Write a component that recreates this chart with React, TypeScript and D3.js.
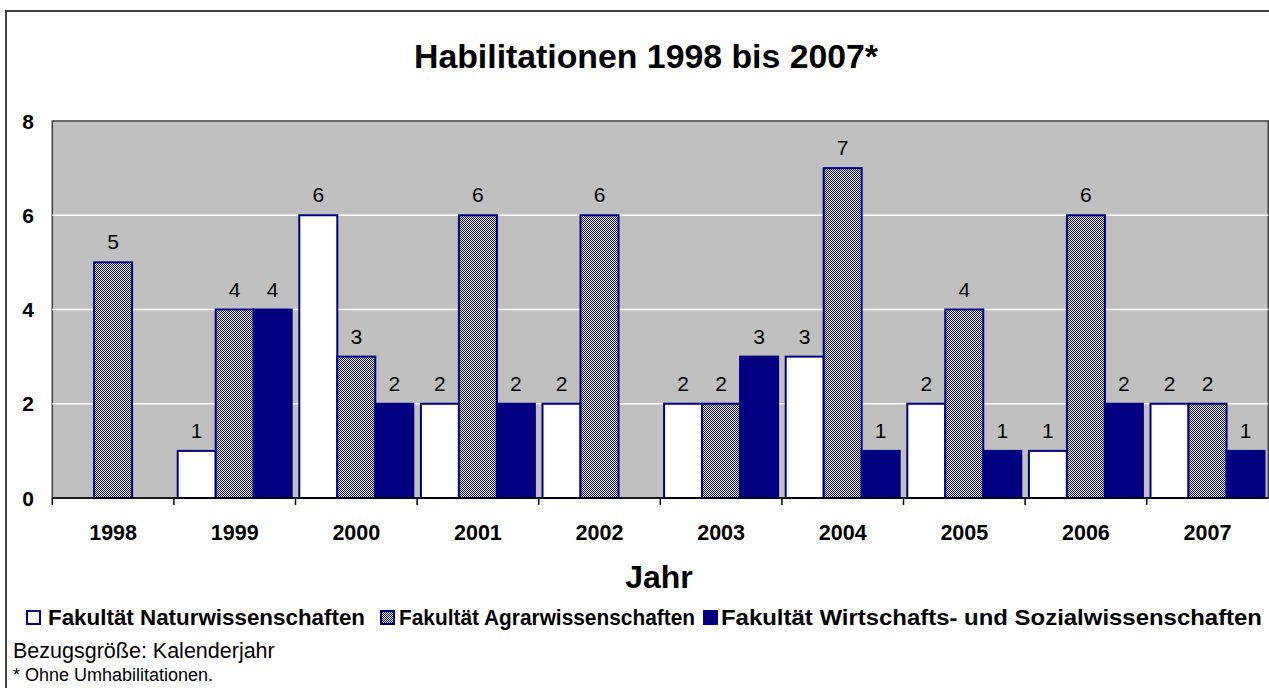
import React from "react";
import * as d3 from "d3";

const years = ["1998", "1999", "2000", "2001", "2002", "2003", "2004", "2005", "2006", "2007"];
const seriesNames = [
  "Fakultät Naturwissenschaften",
  "Fakultät Agrarwissenschaften",
  "Fakultät Wirtschafts- und Sozialwissenschaften",
];
const natur = [0, 1, 6, 2, 2, 2, 3, 2, 1, 2];
const agrar = [5, 4, 3, 6, 6, 2, 7, 4, 6, 2];
const wirt = [0, 4, 2, 2, 0, 3, 1, 1, 2, 1];
const yTicks = [0, 2, 4, 6, 8];

const NAVY = "#000080";
const FONT = "Arial, 'Liberation Sans', Helvetica, sans-serif";

export default function App() {
  const W = 1269, H = 688;
  const left = 52.3, right = 1268.3, top = 121, bottom = 498;
  const x0 = d3.scaleBand<string>().domain(years).range([left, right]).padding(0);
  const x1 = d3.scaleBand<string>().domain(["n", "a", "w"]).range([0, x0.bandwidth()]).paddingInner(0).paddingOuter(0.1);
  const y = d3.scaleLinear().domain([0, 8]).range([bottom, top]);
  const data = [
    { key: "n", vals: natur, fill: "#ffffff" },
    { key: "a", vals: agrar, fill: "url(#agrarPat)" },
    { key: "w", vals: wirt, fill: NAVY },
  ];
  const legendX = [
    { mx: 27, tx: 48, fill: "#ffffff", len: 317 },
    { mx: 381, tx: 399, fill: "url(#agrarPat)", len: 296 },
    { mx: 704, tx: 721, fill: NAVY, len: 541 },
  ];
  return (
    <svg width={W} height={H} style={{ display: "block", position: "absolute", left: 0, top: 0 }} fontFamily={FONT}>
      <defs>
        <pattern id="agrarPat" patternUnits="userSpaceOnUse" width={2} height={2}>
          <rect width={2} height={2} fill="#ffffff" />
          <rect x={0} y={0} width={1} height={1} fill={NAVY} />
          <rect x={1} y={1} width={1} height={1} fill={NAVY} />
        </pattern>
      </defs>
      <rect width={W} height={H} fill="#ffffff" />
      <rect x={6} y={11} width={1300} height={720} fill="none" stroke="#404040" strokeWidth={2} />
      <text x={646} y={68} textAnchor="middle" fontSize={33.8} fontWeight="bold">Habilitationen 1998 bis 2007*</text>
      <rect x={left} y={top} width={right - left} height={bottom - top} fill="#c0c0c0" stroke="#404040" strokeWidth={1.5} />
      {yTicks.filter(t => t > 0 && t < 8).map(t => (
        <line key={t} x1={left} x2={right} y1={y(t)} y2={y(t)} stroke="#ffffff" strokeWidth={1.5} />
      ))}
      {yTicks.map(t => (
        <text key={t} x={34} y={y(t) + 7.5} textAnchor="end" fontSize={21} fontWeight="bold">{t}</text>
      ))}
      {data.map(s => s.vals.map((v, i) => {
        if (!v) return null;
        const bx = (x0(years[i]) as number) + (x1(s.key) as number);
        const bw = x1.bandwidth();
        return (
          <g key={s.key + i}>
            <rect x={bx} y={y(v)} width={bw} height={y(0) - y(v)} fill={s.fill} stroke={NAVY} strokeWidth={2} />
            <text x={bx + bw / 2} y={y(v) - 13} textAnchor="middle" fontSize={21}>{v}</text>
          </g>
        );
      }))}
      <line x1={left} x2={right} y1={bottom} y2={bottom} stroke="#000" strokeWidth={1.5} />
      {years.map((yr, i) => (
        <line key={"t" + yr} x1={x0(yr) as number} x2={x0(yr) as number} y1={bottom} y2={bottom + 7} stroke="#000" strokeWidth={1.5} />
      ))}
      {years.map(yr => (
        <text key={yr} x={(x0(yr) as number) + x0.bandwidth() / 2} y={540} textAnchor="middle" fontSize={21.5} fontWeight="bold">{yr}</text>
      ))}
      <text x={659} y={588} textAnchor="middle" fontSize={32} fontWeight="bold">Jahr</text>
      {seriesNames.map((nm, i) => (
        <g key={nm}>
          <rect x={legendX[i].mx} y={611} width={13} height={13} fill={legendX[i].fill} stroke={NAVY} strokeWidth={2} />
          <text x={legendX[i].tx} y={625} fontSize={21.5} fontWeight="bold" textLength={legendX[i].len} lengthAdjust="spacingAndGlyphs">{nm}</text>
        </g>
      ))}
      <text x={13} y={658} fontSize={21.5}>Bezugsgröße: Kalenderjahr</text>
      <text x={13} y={681} fontSize={18}>* Ohne Umhabilitationen.</text>
    </svg>
  );
}
